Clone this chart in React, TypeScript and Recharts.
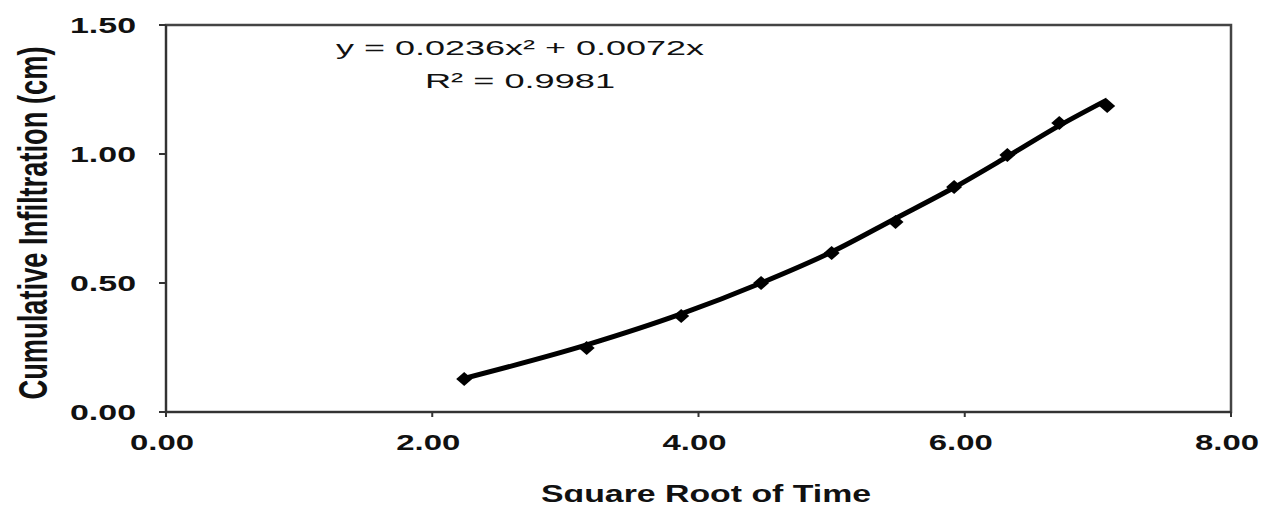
import { ComposedChart, Line, Scatter, XAxis, YAxis, ReferenceArea } from "recharts";

// values
const sqrtTime = [2.24, 3.16, 3.87, 4.47, 5.0, 5.48, 5.92, 6.32, 6.71, 7.07];
const infiltration = [0.128, 0.248, 0.372, 0.5, 0.616, 0.736, 0.872, 0.996, 1.12, 1.186];
const trendFit = [0.13, 0.26, 0.38, 0.5, 0.62, 0.75, 0.87, 0.99, 1.11, 1.21];
const xTicks = [0, 2, 4, 6, 8];
const yTicks = [0, 0.5, 1, 1.5];
const equationLines = ["y = 0.0236x² + 0.0072x", "R² = 0.9981"];
const xTitle = "Square Root of Time";
const yTitle = "Cumulative Infiltration (cm)";

const points = sqrtTime.map((x, i) => ({ x, y: infiltration[i] }));
const trend = sqrtTime.map((x, i) => ({ x, fit: trendFit[i] }));

const FONT = "Arial, 'Liberation Sans', sans-serif";

const Diamond = (props: any) => {
  const { cx, cy } = props;
  return (
    <polygon
      points={`${cx - 8},${cy} ${cx},${cy - 7} ${cx + 8},${cy} ${cx},${cy + 7}`}
      fill="#000"
    />
  );
};

// labels sit a few px left of their ticks, as in the scan
const XTick = ({ x, y, payload }: any) => (
  <text
    x={x - 4}
    y={y + 33}
    textAnchor="middle"
    fontFamily={FONT}
    fontSize={22}
    fontWeight="bold"
    textLength={64}
    lengthAdjust="spacingAndGlyphs"
    fill="#111"
  >
    {Number(payload.value).toFixed(2)}
  </text>
);

const YTick = ({ x, y, payload }: any) => (
  <text
    x={x - 23}
    y={y + 8}
    textAnchor="end"
    fontFamily={FONT}
    fontSize={22}
    fontWeight="bold"
    textLength={66}
    lengthAdjust="spacingAndGlyphs"
    fill="#111"
  >
    {Number(payload.value).toFixed(2)}
  </text>
);

const W = 1251;
const H = 494;

const App = () => {
  return (
    <div style={{ position: "relative", width: W, height: H }}>
      <ComposedChart
        width={W}
        height={H}
        margin={{ top: 17, right: 28, left: 0, bottom: 0 }}
      >
        <XAxis
          type="number"
          dataKey="x"
          domain={[0, 8]}
          ticks={xTicks}
          height={90}
          tickSize={5}
          tickMargin={0}
          axisLine={{ stroke: "#333", strokeWidth: 2 }}
          tickLine={{ stroke: "#333", strokeWidth: 2 }}
          tick={<XTick />}
        />
        <YAxis
          type="number"
          domain={[0, 1.5]}
          ticks={yTicks}
          width={158}
          tickSize={7}
          tickMargin={0}
          axisLine={{ stroke: "#333", strokeWidth: 2 }}
          tickLine={{ stroke: "#333", strokeWidth: 2 }}
          tick={<YTick />}
        />
        <ReferenceArea
          x1={0}
          x2={8}
          y1={0}
          y2={1.5}
          fill="none"
          fillOpacity={0}
          stroke="#444"
          strokeWidth={2.5}
          ifOverflow="visible"
        />
        <Line
          data={trend}
          dataKey="fit"
          type="monotone"
          stroke="#000"
          strokeWidth={5}
          dot={false}
          isAnimationActive={false}
        />
        <Scatter
          data={points}
          dataKey="y"
          shape={<Diamond />}
          isAnimationActive={false}
        />
      </ComposedChart>
      <svg
        width={W}
        height={H}
        style={{ position: "absolute", left: 0, top: 0, pointerEvents: "none", overflow: "visible" }}
      >
        <text
          x={512}
          y={47}
          textAnchor="middle"
          fontFamily={FONT}
          fontSize={21}
          textLength={368}
          lengthAdjust="spacingAndGlyphs"
          fill="#111"
        >
          {equationLines[0]}
        </text>
        <text
          x={512}
          y={80}
          textAnchor="middle"
          fontFamily={FONT}
          fontSize={21}
          textLength={190}
          lengthAdjust="spacingAndGlyphs"
          fill="#111"
        >
          {equationLines[1]}
        </text>
        <text
          x={698}
          y={494}
          textAnchor="middle"
          fontFamily={FONT}
          fontSize={24}
          fontWeight="bold"
          textLength={330}
          lengthAdjust="spacingAndGlyphs"
          fill="#111"
        >
          {xTitle}
        </text>
        <text
          transform="translate(39,215) scale(1.5,1) rotate(-90)"
          textAnchor="middle"
          fontFamily={FONT}
          fontSize={27}
          fontWeight="bold"
          textLength={353}
          lengthAdjust="spacingAndGlyphs"
          fill="#111"
        >
          {yTitle}
        </text>
      </svg>
    </div>
  );
};

export default App;
